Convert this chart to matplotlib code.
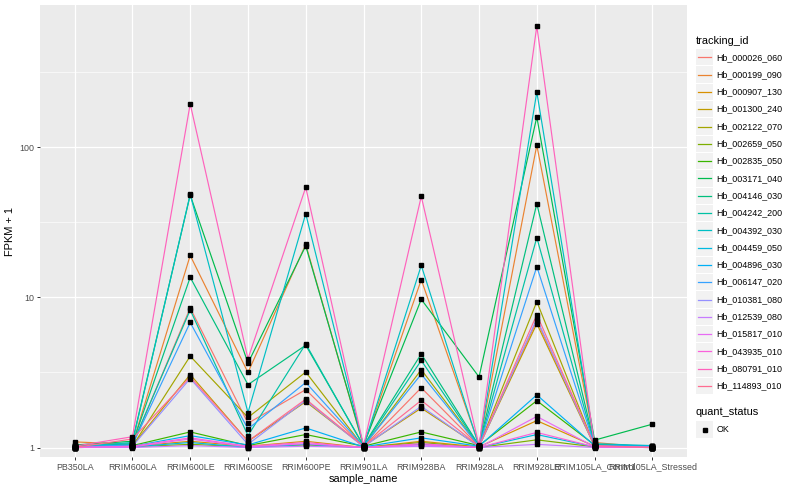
import numpy as np
import matplotlib
matplotlib.use("Agg")
import matplotlib.pyplot as plt
from matplotlib.patches import Rectangle
from matplotlib.lines import Line2D

plt.rcParams['font.family'] = ['Liberation Sans', 'DejaVu Sans']

samples = ['PB350LA', 'RRIM600LA', 'RRIM600LE', 'RRIM600SE', 'RRIM600PE', 'RRIM901LA',
           'RRIM928BA', 'RRIM928LA', 'RRIM928LE', 'RRIM105LA_Control', 'RRIM105LA_Stressed']

tracking_ids = ['Hb_000026_060', 'Hb_000199_090', 'Hb_000907_130', 'Hb_001300_240', 'Hb_002122_070',
                'Hb_002659_050', 'Hb_002835_050', 'Hb_003171_040', 'Hb_004146_030', 'Hb_004242_200',
                'Hb_004392_030', 'Hb_004459_050', 'Hb_004896_030', 'Hb_006147_020', 'Hb_010381_080',
                'Hb_012539_080', 'Hb_015817_010', 'Hb_043935_010', 'Hb_080791_010', 'Hb_114893_010']

hb_000026_060 = [1.02, 1.04, 8.5, 1.45, 2.43, 1.01, 2.5, 1.02, 7.0, 1.03, 1.01]
hb_000199_090 = [1.09, 1.05, 19.0, 3.16, 22.5, 1.02, 13.1, 1.04, 103, 1.08, 1.0]
hb_000907_130 = [1.03, 1.02, 1.10, 1.02, 1.10, 1.0, 1.10, 1.01, 1.51, 1.02, 1.01]
hb_001300_240 = [1.01, 1.03, 3.06, 1.1, 2.02, 1.02, 1.83, 1.02, 6.68, 1.02, 1.0]
hb_002122_070 = [1.0, 1.02, 4.06, 1.585, 3.18, 1.01, 3.3, 1.02, 9.36, 1.02, 1.0]
hb_002659_050 = [1.0, 1.01, 1.05, 1.01, 1.04, 1.0, 1.08, 1.0, 1.125, 1.01, 1.0]
hb_002835_050 = [1.02, 1.03, 1.27, 1.03, 1.22, 1.02, 1.27, 1.03, 2.05, 1.04, 1.02]
hb_003171_040 = [1.04, 1.1, 48.0, 3.65, 22.0, 1.04, 9.7, 2.95, 159, 1.12, 1.43]
hb_004146_030 = [1.02, 1.06, 13.6, 2.62, 4.8, 1.03, 4.2, 1.03, 42, 1.05, 1.02]
hb_004242_200 = [1.01, 1.05, 8.25, 1.2, 4.9, 1.02, 3.8, 1.02, 25, 1.04, 1.02]
hb_004392_030 = [1.01, 1.08, 48.5, 1.71, 36, 1.02, 16.3, 1.02, 233, 1.06, 1.03]
hb_004459_050 = [1.0, 1.01, 1.08, 1.0, 1.05, 1.0, 1.05, 1.0, 1.22, 1.01, 1.0]
hb_004896_030 = [1.01, 1.02, 1.2, 1.04, 1.35, 1.01, 1.16, 1.02, 2.24, 1.03, 1.02]
hb_006147_020 = [1.01, 1.04, 6.8, 1.33, 2.71, 1.02, 3.08, 1.02, 16.0, 1.03, 1.01]
hb_010381_080 = [1.0, 1.02, 2.88, 1.05, 2.06, 1.01, 1.88, 1.01, 7.18, 1.02, 1.0]
hb_012539_080 = [1.0, 1.0, 1.03, 1.0, 1.02, 1.0, 1.02, 1.0, 1.05, 1.0, 1.0]
hb_015817_010 = [1.0, 1.01, 1.14, 1.01, 1.06, 1.0, 1.04, 1.0, 1.61, 1.01, 1.0]
hb_043935_010 = [1.0, 1.02, 1.16, 1.02, 1.08, 1.0, 1.06, 1.0, 1.26, 1.01, 1.0]
hb_080791_010 = [1.02, 1.18, 194, 3.9, 54, 1.03, 47, 1.03, 640, 1.02, 1.0]
hb_114893_010 = [1.0, 1.14, 2.95, 1.1, 2.1, 1.02, 2.06, 1.02, 7.67, 1.03, 1.0]

series = [hb_000026_060, hb_000199_090, hb_000907_130, hb_001300_240, hb_002122_070,
          hb_002659_050, hb_002835_050, hb_003171_040, hb_004146_030, hb_004242_200,
          hb_004392_030, hb_004459_050, hb_004896_030, hb_006147_020, hb_010381_080,
          hb_012539_080, hb_015817_010, hb_043935_010, hb_080791_010, hb_114893_010]

colors = ["#F8766D", "#EA8331", "#D89000", "#C09B00", "#A3A500", "#7CAE00", "#39B600",
          "#00BB4E", "#00BF7D", "#00C1A3", "#00BFC4", "#00BAE0", "#00B0F6", "#35A2FF",
          "#9590FF", "#C77CFF", "#E76BF3", "#FA62DB", "#FF62BC", "#FF6C91"]

W, H = 800, 500
fig = plt.figure(figsize=(8, 5), dpi=100)
fig.patch.set_facecolor('white')

# panel in pixels
pl, pr, pt, pb = 40, 687, 5, 457
ax = fig.add_axes([pl / W, 1 - pb / H, (pr - pl) / W, (pb - pt) / H])
ax.set_facecolor('#EBEBEB')

x = np.arange(len(samples))
allv = np.array(series, dtype=float)
lo, hi = np.log10(allv.min()), np.log10(allv.max())
pad = 0.05 * (hi - lo)
ax.set_yscale('log')
ax.set_ylim(10 ** (lo - 0.45 * pad), 10 ** (hi + pad))
ax.set_xlim(-0.6, len(samples) - 1 + 0.6)

# grid
for yv in [10 ** 0.5, 10 ** 1.5, 10 ** 2.5]:
    ax.axhline(yv, color='white', lw=0.45, zorder=0.5)
for yv in [1, 10, 100]:
    ax.axhline(yv, color='white', lw=0.9, zorder=0.6)
for xv in x:
    ax.axvline(xv, color='white', lw=0.9, zorder=0.6)

for vals, c in zip(series, colors):
    ax.plot(x, vals, color=c, lw=0.85, zorder=2)
for vals in series:
    ax.plot(x, vals, linestyle='none', marker='s', ms=2.2, color='black', zorder=3)

for s in ax.spines.values():
    s.set_visible(False)
ax.set_yticks([1, 10, 100])
ax.set_yticklabels(['1', '10', '100'])
ax.yaxis.set_minor_locator(matplotlib.ticker.NullLocator())
ax.set_xticks(x)
ax.set_xticklabels(samples)
ax.tick_params(axis='both', colors='#333333', length=2.5, width=0.7, labelsize=6.4,
               labelcolor='#4D4D4D', pad=1.5)
ax.set_xlabel('sample_name', fontsize=7.9, labelpad=2)
ax.set_ylabel('FPKM + 1', fontsize=7.9, labelpad=3)

# legend drawn in figure pixel coords
def fx(px):
    return px / W

def fy(py):
    return 1 - py / H

fig.text(fx(696), fy(40.5), 'tracking_id', fontsize=7.9, va='center', ha='left')
step = 17.3
y0 = 57.3
kx0, kw = 696, 17
for i, (tid, c) in enumerate(zip(tracking_ids, colors)):
    yc = y0 + i * step
    fig.patches.append(Rectangle((fx(kx0), fy(yc + step / 2 - 0.5)), kw / W, (step - 1) / H,
                                 transform=fig.transFigure, facecolor='#F2F2F2', edgecolor='none'))
    fig.lines.append(Line2D([fx(kx0 + 1.7), fx(kx0 + kw - 1.7)], [fy(yc), fy(yc)],
                            transform=fig.transFigure, color=c, lw=0.9))
    fig.text(fx(716.5), fy(yc), tid, fontsize=6.4, va='center', ha='left')

fig.text(fx(696), fy(412), 'quant_status', fontsize=7.9, va='center', ha='left')
yc = 429.5
fig.patches.append(Rectangle((fx(kx0), fy(yc + step / 2 - 0.5)), kw / W, (step - 1) / H,
                             transform=fig.transFigure, facecolor='#F2F2F2', edgecolor='none'))
fig.lines.append(Line2D([fx(kx0 + kw / 2)], [fy(yc)], transform=fig.transFigure,
                        marker='s', ms=2.2, color='black', linestyle='none'))
fig.text(fx(716.5), fy(yc), 'OK', fontsize=6.4, va='center', ha='left')

fig.savefig('out.png', dpi=100)
